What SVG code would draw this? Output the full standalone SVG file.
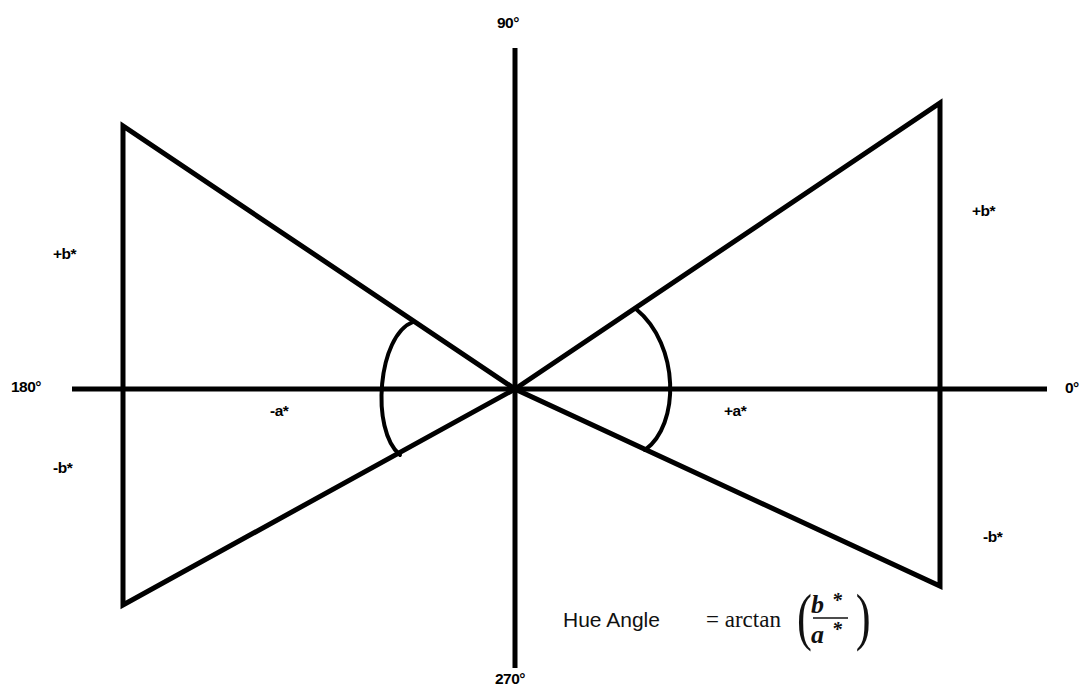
<svg xmlns="http://www.w3.org/2000/svg" width="1087" height="686" viewBox="0 0 1087 686">
<style>
.ln{stroke:#000;stroke-width:5;fill:none;stroke-linejoin:miter;stroke-linecap:butt}
.arc{stroke:#000;stroke-width:4;fill:none;stroke-linecap:round}
.lbl{font-family:"Liberation Sans",Arial,sans-serif;font-weight:bold;font-size:15.5px;fill:#000;letter-spacing:-0.5px}
.hue{font-family:"Liberation Sans",Arial,sans-serif;font-size:21px;fill:#111}
.ser{font-family:"Liberation Serif","Times New Roman",serif;font-size:23px;fill:#111}
.frac{font-family:"Liberation Serif","Times New Roman",serif;font-size:26px;font-style:italic;font-weight:bold;fill:#111}
</style>
<rect width="1087" height="686" fill="#fff"/>
<g id="connectors">
<line class="ln" x1="72" y1="389" x2="1047" y2="389"/>
<line class="ln" x1="515" y1="48" x2="515" y2="668"/>
</g>
<g id="left-triangle">
<path class="ln" d="M515,389 L123,126 L123,605 Z"/>
<path class="arc" d="M413,322 C378,335 370,430 400,455"/>
</g>
<g id="right-triangle">
<path class="ln" d="M515,389 L940,103 L940,586 Z"/>
<path class="arc" d="M636,309 C680,345 680,425 645,450"/>
</g>
<g id="labels">
<text class="lbl" x="497" y="28">90°</text>
<text class="lbl" x="11" y="392">180°</text>
<text class="lbl" x="1065" y="393">0°</text>
<text class="lbl" x="495" y="684">270°</text>
<text class="lbl" x="53" y="259">+b*</text>
<text class="lbl" x="53" y="473">-b*</text>
<text class="lbl" x="270" y="416">-a*</text>
<text class="lbl" x="724" y="416">+a*</text>
<text class="lbl" x="972" y="216">+b*</text>
<text class="lbl" x="983" y="542">-b*</text>
</g>
<g id="formula">
<text class="hue" x="563" y="627">Hue Angle</text>
<text class="ser" x="706" y="627" xml:space="preserve">= arctan</text>
<text class="ser" x="797" y="638" style="font-size:64px" transform="translate(797,638) scale(0.7,1) translate(-797,-638)">(</text>
<text class="ser" x="853" y="638" style="font-size:64px" transform="translate(862,638) scale(0.7,1) translate(-862,-638)">)</text>
<text class="frac" x="811" y="613">b</text>
<text class="frac" x="832" y="607" style="font-size:20px">*</text>
<line x1="813" y1="618" x2="848" y2="618" stroke="#111" stroke-width="1.5"/>
<text class="frac" x="811" y="643">a</text>
<text class="frac" x="832" y="636" style="font-size:20px">*</text>
</g>
</svg>
